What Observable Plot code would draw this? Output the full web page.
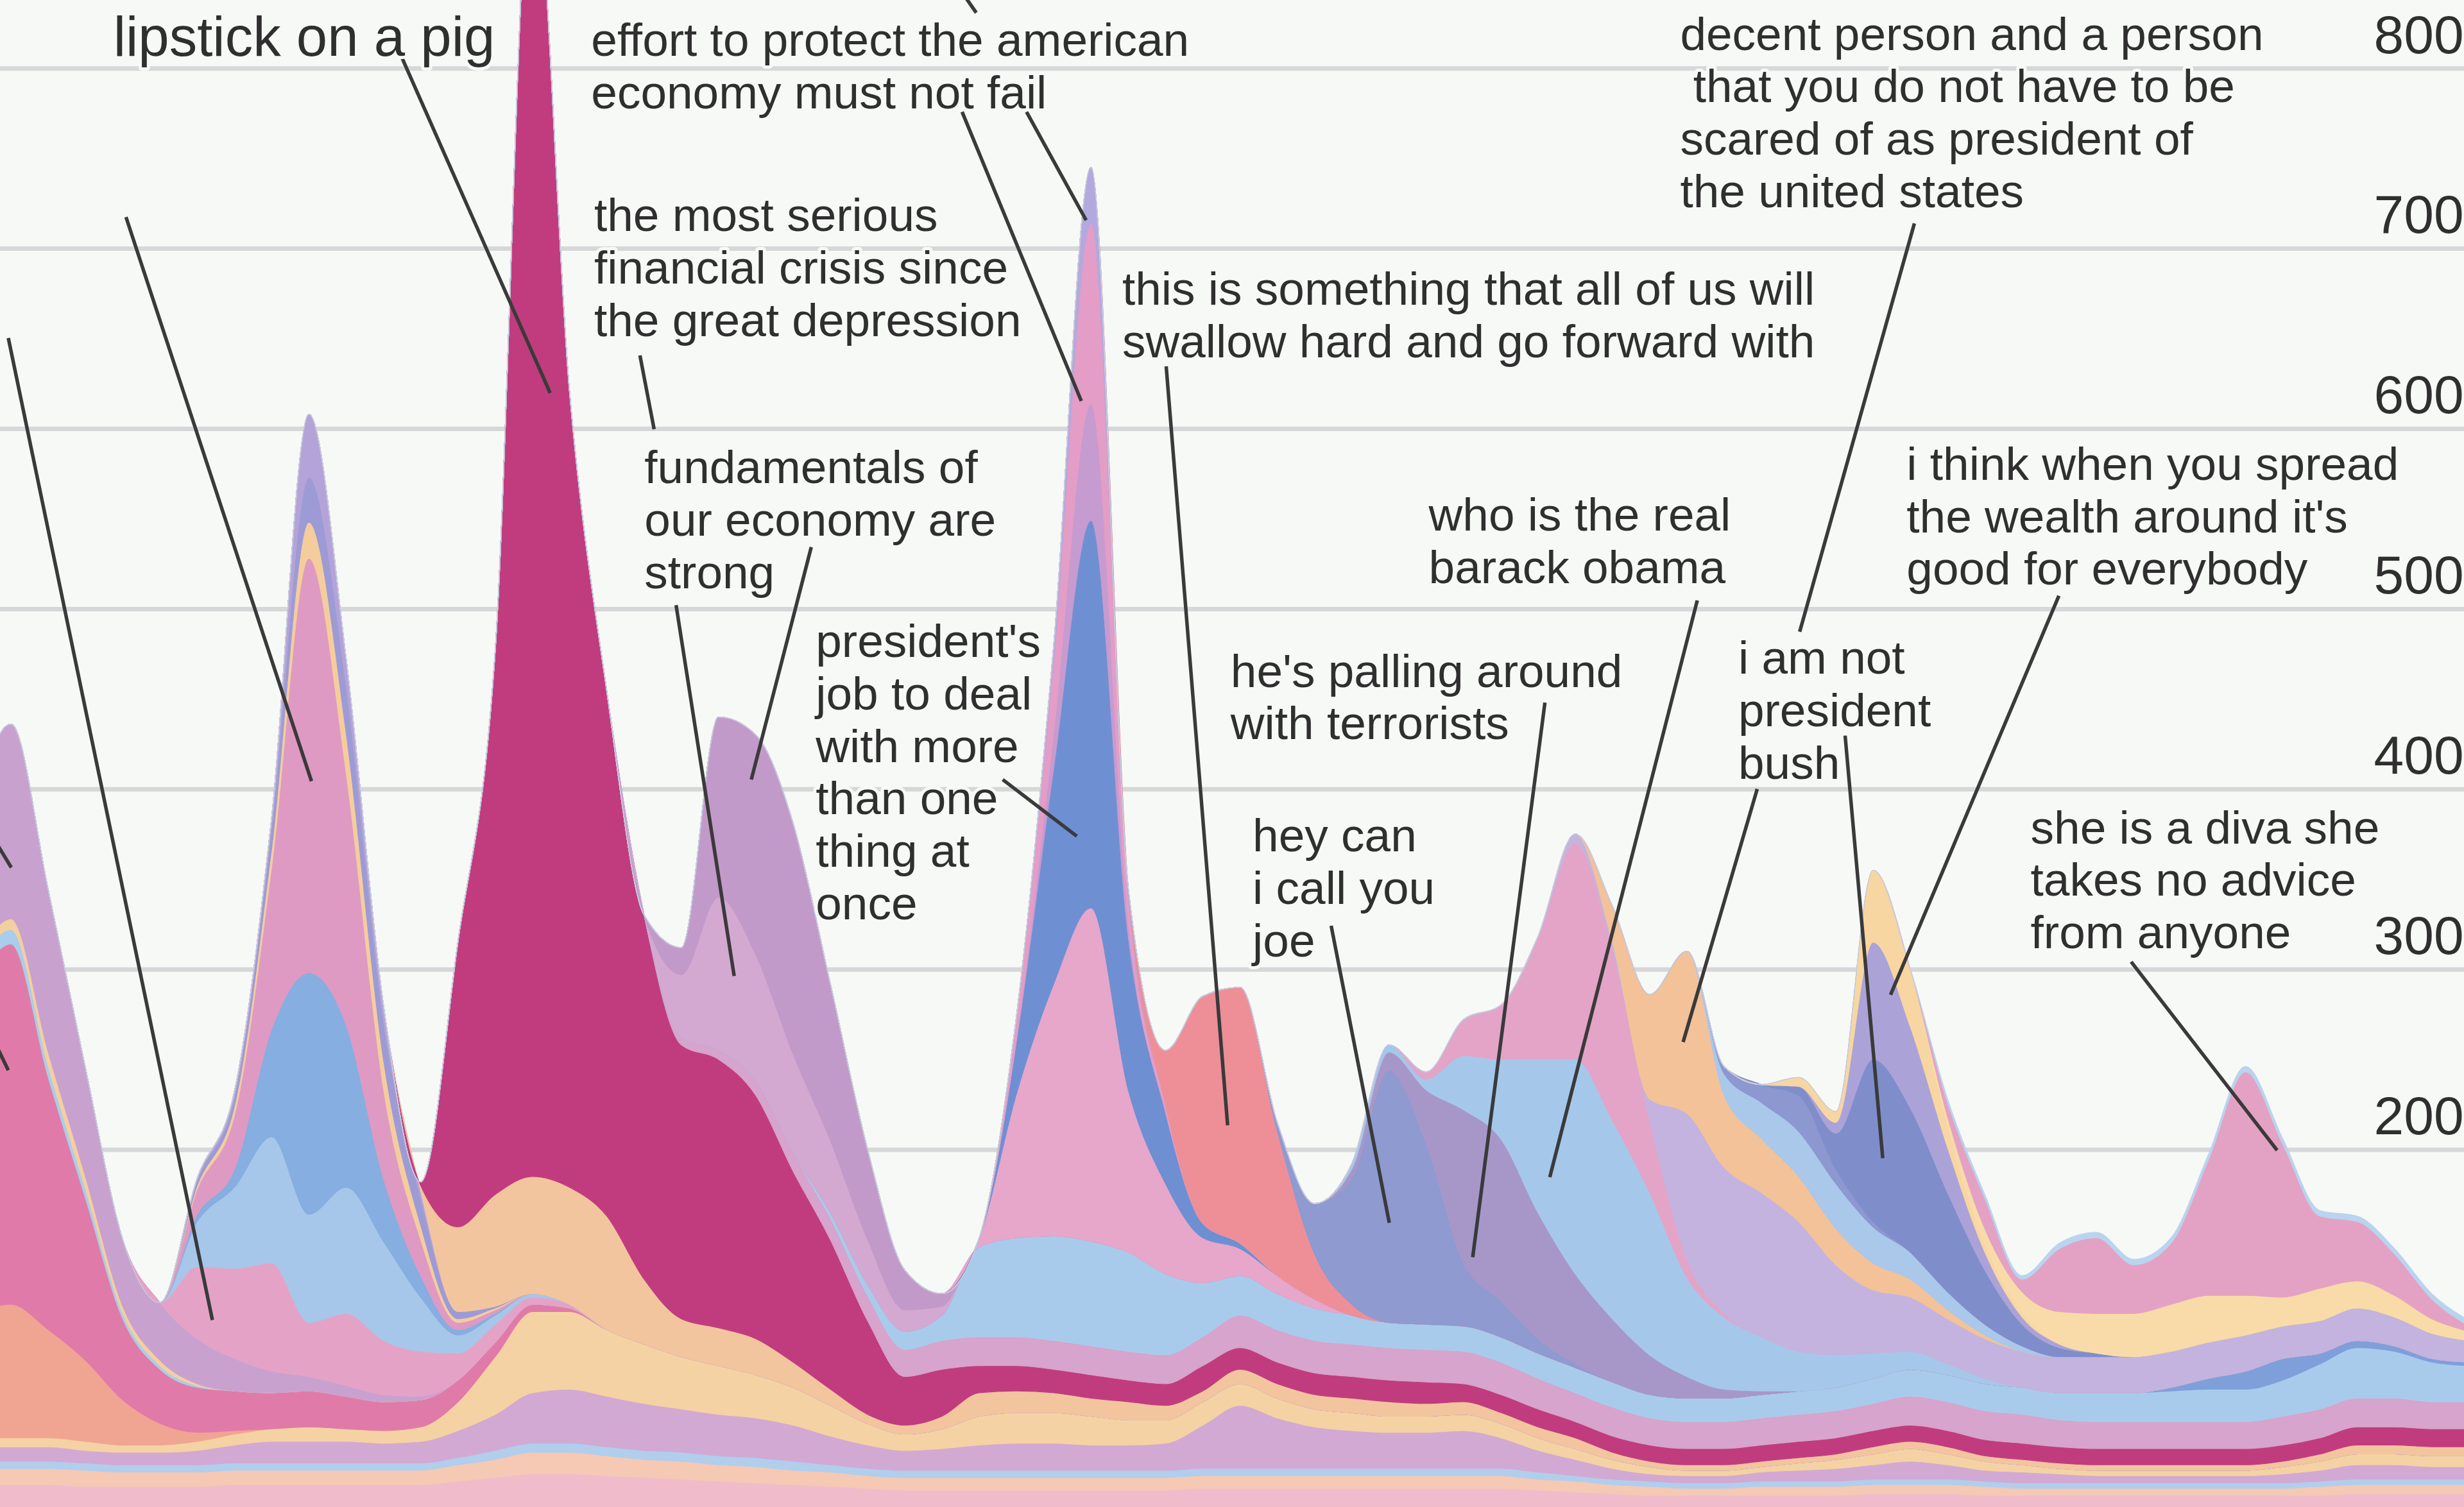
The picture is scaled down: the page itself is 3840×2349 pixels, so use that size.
<!DOCTYPE html>
<html>
<head>
<meta charset="utf-8">
<script src="https://cdn.jsdelivr.net/npm/d3@7"></script>
<script src="https://cdn.jsdelivr.net/npm/@observablehq/plot@0.6"></script>
<style>
  html, body { margin: 0; padding: 0; background: #f7f9f7; overflow: hidden; }
</style>
</head>
<body>
<div id="chart"></div>
<script>
// Day 0 = 27 Aug 2008; one value per day, from day -1 to day 66.
const days = d3.range(-1, 67);

// ---- persistent base layers (day -1 .. 66) ----
const basePink   = [14,14,14,13,13,13,13,14,14,14, 14,14,14,16,18,20,20,19,18,17, 16,15,14,13,12,11,11,11,11,11, 11,11,11,12,12,12,12,12,12,12, 12,12,11,10,9,8,8,8,8,8, 8,9,9,9,8,8,8,8,8,8, 8,8,8,8,9,9,9,9];
const basePeach  = [9,9,9,9,8,8,8,8,8,8, 8,8,8,9,10,12,12,11,10,10, 9,9,8,8,7,7,7,7,7,7, 7,7,7,7,7,7,7,7,7,7, 7,7,6,6,5,5,4,4,5,5, 5,5,5,5,5,4,4,4,4,4, 4,4,4,5,5,5,5,5];
const baseLine   = [4,4,4,4,4,4,4,4,4,4, 4,4,4,4,5,5,5,5,5,5, 5,5,5,4,4,4,4,4,4,4, 4,4,4,4,4,4,4,4,4,4, 4,4,4,3,3,3,3,3,3,3, 3,3,3,3,3,3,3,3,3,3, 3,3,3,3,3,3,3,3];
const baseLav    = [8,8,8,7,7,7,8,10,12,12, 12,11,12,15,20,28,30,28,26,24, 23,22,20,16,13,11,12,14,15,15, 14,14,15,24,35,28,23,21,20,20, 21,17,12,9,6,4,4,4,5,6, 7,8,10,8,6,6,5,4,4,4, 4,4,5,6,8,8,7,7];
const baseYellow = [5,5,5,5,4,4,5,6,7,8, 7,7,8,16,32,45,43,37,33,29, 27,24,21,17,12,9,11,16,17,17, 16,14,13,13,12,11,10,10,9,9, 9,8,7,6,5,4,3,3,3,4, 5,6,7,6,5,4,3,3,3,3, 3,3,4,5,6,6,6,6];

// ---- quote threads (values from their start day) ----
const salmonLeft   = [70,74,60,45,25,12,5,2];
const hotPinkLeft  = [180,200,140,90,45,30,25,22,20,20,18,16,15,12,8,4,2];
const ltBlueLeft   = [8,8,6,5,3,2,1];
const yellowLeft   = [4,6,8,7,4,3,1];
const purpleLeft   = [88,108,90,60,37,32,25,18,12,8,6,4,2];
const pinkLow      = [40,50,60,30,40,30,25,15,10,4,2];
const ltBlueA      = [25,45,70,60,70,55,30,10,5,2];
const blueA        = [4,10,60,134,90,35,12,3,1];
const pinkHigh     = [14,30,90,230,140,50,20,4,2];
const yellowThin   = [2,5,10,20,22,16,8,2,1];
const periLine     = [3,5,12,25,26,22,15,4,1];
const lavTip       = [1,3,5,35,15,8,4];
const orangeLip    = [3,47,62,65,65,63,36,21,21,20, 14,9,5,5,7,13,12,11,10,10, 8,6,8,8,8,8,8,7,7,6, 6,6,4,3,3,3,3,3,3,4, 4,4,3,3,3,3,3,3,3,3, 3,4,5,5,5,5];
const lipstick     = [2,158,301,735,441,291,202,152,149,135, 106,83,52,27,26,15,14,13,13,12, 12,14,12,12,12,12,12,12,10,10, 10,9,9,9,9,9,9,9,9,9, 9,9,9,9,9,9,9,9,9,9, 9,9,10,10,10,10];
const mauveMid     = [0,4,5,8,10,12,14,15,16,16, 16,16,16,16,16,16,18,18,18,18, 18,18,18,18,17,16,16,15,15,15, 15,15,15,15,16,16,16,16,15,15, 15,15,15,15,16,16,16,16,15,15];
const ltBlueMid    = [0,0,0,0,0,3,6,10,14,50, 55,58,58,55,45,30,22,20,18,16, 14,14,14,14,14,14,14,13,13,13, 13,13,13,14,15,15,15,15,15,16, 16,17,18,18,20,25,28,26,22,20];
const blueLate     = [2,6,10,12,6,4,3,2,2];
const crisis       = [35,85,70,55,40,25,12,5];
const fundamentals = [15,100,122,128,87,50,22,7];
const pinkA        = [5,80,140,185,90,50,25,15,10,5];
const presidentJob = [30,120,215,85,40,8,3];
const crisis2      = [20,65,8];
const effort       = [13,40,100,15,4];
const lavTip2      = [8,31,4];
const swallow      = [30,126,142,80,25,6];
const joe          = [5,28,70,140,100,35,20,8,2];
const palling      = [5,10,30,85,90,70,50,35,22,12,5,2];
const realObama    = [3,4,6,30,44,85,119,110,90,55,40,30,22,18,14,10,6,3];
const pinkTop      = [4,20,30,68,120,95,40,10,2];
const lavTop       = [5,4,2];
const lilac        = [10,81,81,80,72,50,35,30,25,22,20,20,20,20,20,20,20,18,18,18,16,14,12];
const notBush      = [20,58,90,40,30,25,20,15,10,5,2];
const ltBlueB      = [12,20,25,25,20,15,10,6,3];
const periBump     = [4,10,20,8,3];
const presBush     = [5,20,90,80,55,30,12,5,2];
const wealth       = [6,65,45,25,10,4,2];
const yellowBush   = [5,6,40,32,12,5,2];
const yellowDiva   = [5,8,12,18,22,24,26,26,22,16,18,15,12,8,5];
const diva         = [8,17,7,35,42,27,34,75,124,85,40,33,23,11,3];
const topLine      = [2,2,2,3,3,3,3,3,3,3,3,3,3,3,3];

// stacking order: bottom to top
const layers = [
  {name: "basePink", color: "#f0bccc", start: -1, values: basePink},
  {name: "basePeach", color: "#f5c9b3", start: -1, values: basePeach},
  {name: "baseLine", color: "#b1ceed", start: -1, values: baseLine},
  {name: "baseLav", color: "#d2a9d3", start: -1, values: baseLav},
  {name: "baseYellow", color: "#f5d2a3", start: -1, values: baseYellow},
  {name: "salmonLeft", color: "#f0a593", start: -1, values: salmonLeft},
  {name: "hotPinkLeft", color: "#e07ba9", start: -1, values: hotPinkLeft},
  {name: "ltBlueLeft", color: "#a9cdea", start: -1, values: ltBlueLeft},
  {name: "yellowLeft", color: "#f4cf9f", start: -1, values: yellowLeft},
  {name: "purpleLeft", color: "#c9a1cf", start: -1, values: purpleLeft},
  {name: "pinkLow", color: "#e4a3c6", start: 5, values: pinkLow},
  {name: "ltBlueA", color: "#a6c7e9", start: 5, values: ltBlueA},
  {name: "blueA", color: "#86aee0", start: 5, values: blueA},
  {name: "pinkHigh", color: "#de9ac3", start: 5, values: pinkHigh},
  {name: "yellowThin", color: "#f5cd9c", start: 5, values: yellowThin},
  {name: "periLine", color: "#9c9bd6", start: 5, values: periLine},
  {name: "lavTip", color: "#b4a3d8", start: 5, values: lavTip},
  {name: "orangeLip", color: "#f3c59f", start: 11, values: orangeLip},
  {name: "lipstick", color: "#c13c7e", start: 11, values: lipstick},
  {name: "mauveMid", color: "#d6a4cc", start: 17, values: mauveMid},
  {name: "ltBlueMid", color: "#a9cbeb", start: 17, values: ltBlueMid},
  {name: "blueLate", color: "#7f9fda", start: 58, values: blueLate},
  {name: "crisis", color: "#d3a9d1", start: 18, values: crisis},
  {name: "fundamentals", color: "#c29ac9", start: 18, values: fundamentals},
  {name: "pinkA", color: "#e6a7ca", start: 26, values: pinkA},
  {name: "presidentJob", color: "#6f8fd3", start: 27, values: presidentJob},
  {name: "crisis2", color: "#c69bd0", start: 28, values: crisis2},
  {name: "effort", color: "#e49dc6", start: 27, values: effort},
  {name: "lavTip2", color: "#b2a9df", start: 28, values: lavTip2},
  {name: "swallow", color: "#ee8f98", start: 31, values: swallow},
  {name: "joe", color: "#8e9ad0", start: 34, values: joe},
  {name: "palling", color: "#a797c9", start: 36, values: palling},
  {name: "realObama", color: "#a5c8ea", start: 36, values: realObama},
  {name: "pinkTop", color: "#e3a4c8", start: 38, values: pinkTop},
  {name: "lavTop", color: "#c6b3de", start: 42, values: lavTop},
  {name: "lilac", color: "#c4b3de", start: 44, values: lilac},
  {name: "notBush", color: "#f3c299", start: 43, values: notBush},
  {name: "ltBlueB", color: "#a9c8ea", start: 46, values: ltBlueB},
  {name: "periBump", color: "#8d97d0", start: 46, values: periBump},
  {name: "presBush", color: "#7f8ecb", start: 48, values: presBush},
  {name: "wealth", color: "#aba3d8", start: 49, values: wealth},
  {name: "yellowBush", color: "#f7d6a2", start: 48, values: yellowBush},
  {name: "yellowDiva", color: "#f8dba8", start: 52, values: yellowDiva},
  {name: "diva", color: "#e3a2c4", start: 52, values: diva},
  {name: "topLine", color: "#b9d4ee", start: 52, values: topLine}
];

const table = [];
for (const L of layers) {
  for (const d of days) {
    const i = d - L.start;
    table.push({day: d, layer: L.name, value: (i >= 0 && i < L.values.length) ? L.values[i] : 0});
  }
}

const yTicks = [200, 300, 400, 500, 600, 700, 800];
const gridValues = [100, 200, 300, 400, 500, 600, 700, 800];

const notes = [
  {text: "lipstick on a pig", day: 2.74, value: 818, size: 87},
  {text: "effort to protect the american\neconomy must not fail", day: 15.57, value: 801.7, size: 73},
  {text: "the most serious\nfinancial crisis since\nthe great depression", day: 15.65, value: 690.0, size: 73},
  {text: "fundamentals of\nour economy are\nstrong", day: 17.0, value: 550.0, size: 73},
  {text: "president's\njob to deal\nwith more\nthan one\nthing at\nonce", day: 21.6, value: 410.0, size: 73},
  {text: "this is something that all of us will\nswallow hard and go forward with", day: 29.83, value: 663.5, size: 73},
  {text: "who is the real\nbarack obama", day: 38.06, value: 538.4, size: 73},
  {text: "he's palling around\nwith terrorists", day: 32.74, value: 451.6, size: 73},
  {text: "hey can\ni call you\njoe", day: 33.33, value: 345.7, size: 73},
  {text: "decent person and a person\n\u00a0that you do not have to be\nscared of as president of\nthe united states", day: 44.81, value: 776.0, size: 73},
  {text: "i think when you spread\nthe wealth around it's\ngood for everybody", day: 50.89, value: 552.0, size: 73},
  {text: "i am not\npresident\nbush", day: 46.37, value: 444.4, size: 73},
  {text: "she is a diva she\ntakes no advice\nfrom anyone", day: 54.22, value: 350.2, size: 73}
];

const leaders = [
  {d1: 10.46, v1: 807.3, d2: 14.47, v2: 619.9},
  {d1: 3.08, v1: 717.5, d2: 8.06, v2: 404.5},
  {d1: -0.08, v1: 650.4, d2: 5.40, v2: 105.5},
  {d1: -0.51, v1: 374.0, d2: 0.0, v2: 356.6},
  {d1: -0.51, v1: 262.4, d2: -0.08, v2: 244.1},
  {d1: 16.88, v1: 640.8, d2: 17.26, v2: 599.8},
  {d1: 17.85, v1: 502.2, d2: 19.41, v2: 296.4},
  {d1: 21.48, v1: 534.4, d2: 19.87, v2: 405.4},
  {d1: 25.53, v1: 775.9, d2: 28.73, v2: 615.5},
  {d1: 27.26, v1: 775.9, d2: 28.86, v2: 715.8},
  {d1: 25.53, v1: 842.2, d2: 25.91, v2: 830.9},
  {d1: 26.62, v1: 405.4, d2: 28.61, v2: 374.0},
  {d1: 31.01, v1: 634.7, d2: 32.66, v2: 213.6},
  {d1: 35.44, v1: 324.3, d2: 37.00, v2: 159.5},
  {d1: 41.18, v1: 448.1, d2: 39.24, v2: 140.4},
  {d1: 45.27, v1: 504.8, d2: 41.31, v2: 184.8},
  {d1: 51.10, v1: 714.0, d2: 48.02, v2: 487.4},
  {d1: 46.88, v1: 400.2, d2: 44.89, v2: 259.8},
  {d1: 49.24, v1: 429.8, d2: 50.25, v2: 195.3},
  {d1: 54.98, v1: 507.4, d2: 50.46, v2: 286.0},
  {d1: 56.92, v1: 304.3, d2: 60.84, v2: 199.7}
];

const bg = "#f7f9f7";
const font = "Liberation Sans, Arial, Helvetica, sans-serif";

const chart = Plot.plot({
  width: 3840,
  height: 2349,
  margin: 0,
  style: {background: bg, fontFamily: font},
  x: {domain: [-0.2946, 65.866], axis: null},
  y: {domain: [1.6, 837.8]},
  color: {domain: layers.map(d => d.name), range: layers.map(d => d.color)},
  marks: [
    Plot.gridY(gridValues, {stroke: "#d7d7d9", strokeOpacity: 1, strokeWidth: 7}),
    Plot.areaY(table, {x: "day", y: "value", z: "layer", fill: "layer", stroke: "layer", strokeWidth: 1.2, curve: "monotone-x", clip: true}),
    Plot.axisY(yTicks, {anchor: "right", tickSize: 0, tickPadding: 0, dx: -141, dy: -51, textAnchor: "start", fontSize: 84, fill: "#2f2f2f", fontFamily: font}),
    Plot.link(leaders, {x1: "d1", y1: "v1", x2: "d2", y2: "v2", stroke: "#3a3a3a", strokeWidth: 5.5, clip: true}),
    Plot.text(notes, {x: "day", y: "value", text: "text", fontSize: "size", textAnchor: "start", lineAnchor: "middle", lineHeight: 1.12, fill: "#2f2f2f", stroke: bg, strokeWidth: 10, paintOrder: "stroke", fontFamily: font})
  ]
});
document.getElementById("chart").appendChild(chart);
</script>
</body>
</html>
